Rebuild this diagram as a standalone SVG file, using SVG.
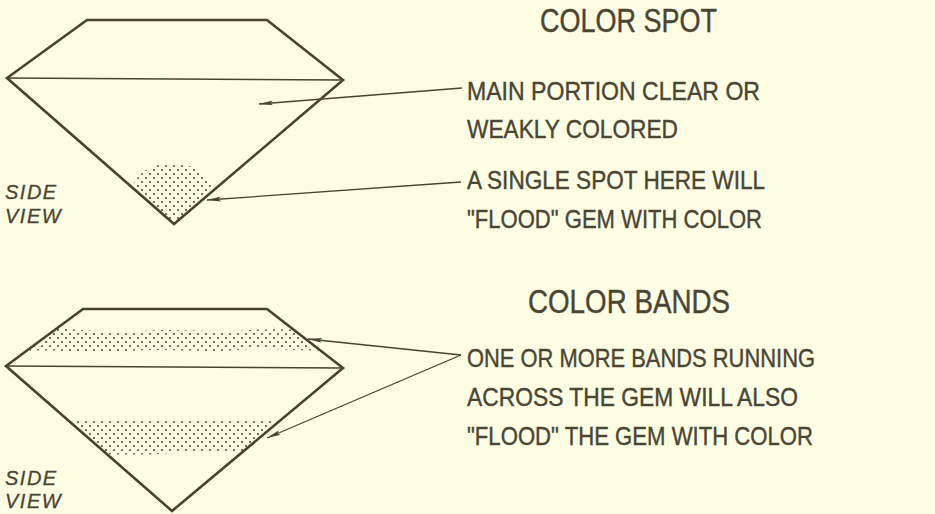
<svg xmlns="http://www.w3.org/2000/svg" width="935" height="514" viewBox="0 0 935 514">
  <style>
    .outline { fill: none; stroke: #48432f; stroke-width: 2.6; stroke-linejoin: miter; }
    .girdle { fill: none; stroke: #48432f; stroke-width: 1.6; }
    .lead { fill: none; stroke: #48432f; stroke-width: 1.3; }
    .dots { fill: url(#stipple); stroke: none; }
    .title { font-family: "Liberation Sans", Arial, sans-serif; font-size: 33px; fill: #4a4534; stroke: #4a4534; stroke-width: 0.4; }
    .label { font-family: "Liberation Sans", Arial, sans-serif; font-size: 25.5px; fill: #4a4534; stroke: #4a4534; stroke-width: 0.4; }
    .side { font-family: "Liberation Sans", Arial, sans-serif; font-size: 20px; font-style: italic; fill: #4a4534; letter-spacing: 1.5px; stroke: #4a4534; stroke-width: 0.3; }
  </style>
  <defs>
    <pattern id="stipple" width="8" height="8" patternUnits="userSpaceOnUse">
      <circle cx="2" cy="2" r="1.1" fill="#55503c"/>
      <circle cx="6" cy="6" r="1.1" fill="#55503c"/>
    </pattern>
    <marker id="head" viewBox="0 0 14 6" markerWidth="14" markerHeight="6" refX="14" refY="3" orient="auto" markerUnits="userSpaceOnUse">
      <path d="M0,0.6 L14,3 L0,5.4 L3,3 z" fill="#48432f"/>
    </marker>
    <clipPath id="pavilion-top">
      <polygon points="7,78 343,80 174,224"/>
    </clipPath>
    <clipPath id="crown-bottom">
      <polygon points="83,309 267,309 343,368 6,366"/>
    </clipPath>
    <clipPath id="pavilion-bottom">
      <polygon points="6,366 343,368 172,511"/>
    </clipPath>
  </defs>

  <rect x="0" y="0" width="935" height="514" fill="#fdfde4"/>

  <!-- Upper gem: single colour spot at the culet -->
  <g id="gem-spot">
    <ellipse class="dots" cx="172" cy="192" rx="40" ry="29" clip-path="url(#pavilion-top)"/>
    <polygon class="outline" points="87,20 267,20 343,80 174,224 7,78"/>
    <line class="girdle" x1="7" y1="78" x2="343" y2="80"/>
  </g>

  <!-- Lower gem: two colour bands across crown and pavilion -->
  <g id="gem-bands">
    <path class="dots" clip-path="url(#crown-bottom)"
          d="M30,330 C70,326 100,334 140,331 C180,328 210,333 250,330 C280,328 300,330 330,331
             L330,350 C300,352 270,347 240,350 C200,353 170,348 130,351 C90,354 60,349 30,351 Z"/>
    <path class="dots" clip-path="url(#pavilion-bottom)"
          d="M40,421 C80,417 110,423 150,420 C190,417 230,422 290,419
             L290,452 C240,455 200,451 160,454 C120,456 80,452 40,454 Z"/>
    <polygon class="outline" points="83,309 267,309 343,368 172,511 6,366"/>
    <line class="girdle" x1="6" y1="366" x2="343" y2="368"/>
  </g>

  <!-- Leader lines from the captions to the gems -->
  <g id="connectors">
    <line class="lead" x1="462" y1="88" x2="259" y2="104" marker-end="url(#head)"/>
    <line class="lead" x1="461" y1="182" x2="207" y2="200" marker-end="url(#head)"/>
    <line class="lead" x1="461" y1="355" x2="308" y2="339" marker-end="url(#head)"/>
    <line class="lead" x1="461" y1="355" x2="267" y2="438" marker-end="url(#head)"/>
  </g>

  <g id="side-view-top">
    <text class="side" x="5" y="199">SIDE</text>
    <text class="side" x="5" y="223">VIEW</text>
  </g>
  <g id="side-view-bottom">
    <text class="side" x="5" y="485">SIDE</text>
    <text class="side" x="5" y="508">VIEW</text>
  </g>

  <g id="caption-spot">
    <text class="title" x="540" y="32" textLength="177" lengthAdjust="spacingAndGlyphs">COLOR SPOT</text>
    <text class="label" x="467" y="100" textLength="293" lengthAdjust="spacingAndGlyphs">MAIN PORTION CLEAR OR</text>
    <text class="label" x="467" y="138" textLength="211" lengthAdjust="spacingAndGlyphs">WEAKLY COLORED</text>
    <text class="label" x="467" y="189" textLength="298" lengthAdjust="spacingAndGlyphs">A SINGLE SPOT HERE WILL</text>
    <text class="label" x="467" y="228" textLength="295" lengthAdjust="spacingAndGlyphs">"FLOOD" GEM WITH COLOR</text>
  </g>

  <g id="caption-bands">
    <text class="title" x="528" y="313" textLength="202" lengthAdjust="spacingAndGlyphs">COLOR BANDS</text>
    <text class="label" x="467" y="367" textLength="348" lengthAdjust="spacingAndGlyphs">ONE OR MORE BANDS RUNNING</text>
    <text class="label" x="467" y="406" textLength="331" lengthAdjust="spacingAndGlyphs">ACROSS THE GEM WILL ALSO</text>
    <text class="label" x="467" y="445" textLength="346" lengthAdjust="spacingAndGlyphs">"FLOOD" THE GEM WITH COLOR</text>
  </g>
</svg>
